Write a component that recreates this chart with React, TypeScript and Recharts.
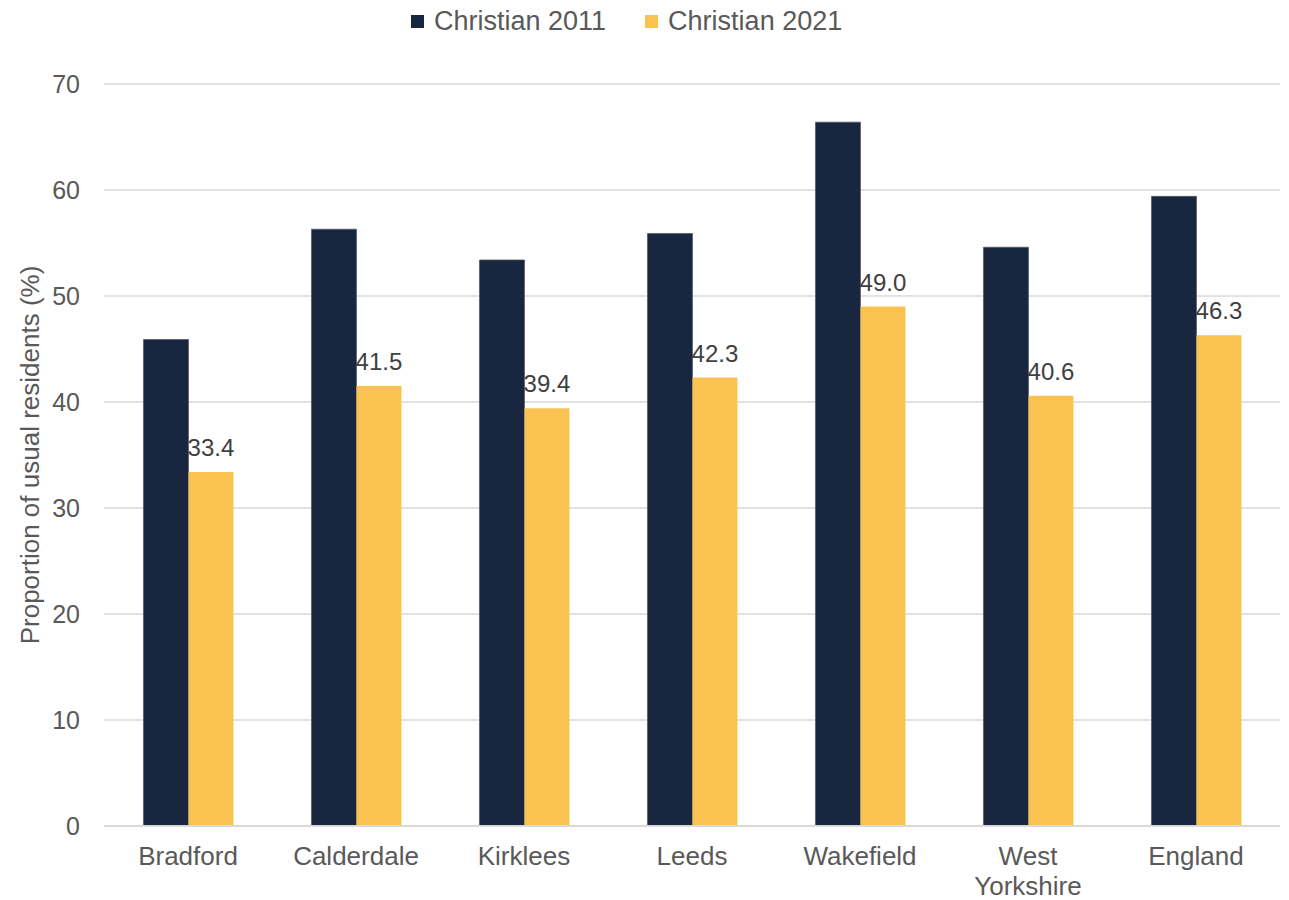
import React from "react";
import {
  BarChart,
  Bar,
  XAxis,
  YAxis,
  CartesianGrid,
  Legend,
  LabelList,
} from "recharts";

// areas on the x axis
const areas = [
  "Bradford",
  "Calderdale",
  "Kirklees",
  "Leeds",
  "Wakefield",
  "West Yorkshire",
  "England",
];

// share of usual residents who are Christian (%)
const christian2011 = [45.9, 56.3, 53.4, 55.9, 66.4, 54.6, 59.4];
const christian2021 = [33.4, 41.5, 39.4, 42.3, 49.0, 40.6, 46.3];

const yTicks = [0, 10, 20, 30, 40, 50, 60, 70];

const seriesNames = ["Christian 2011", "Christian 2021"];
const colors = ["#19263f", "#fac250"];

const FONT = '"Liberation Sans", Arial, sans-serif';

const data = areas.map((name, i) => ({
  name: name,
  c2011: christian2011[i],
  c2021: christian2021[i],
}));

function AreaTick(props: any) {
  const { x, y, payload } = props;
  const value: string = payload.value;
  const lines = value.length > 11 ? value.split(" ") : [value];
  return (
    <text
      x={x}
      y={y}
      textAnchor="middle"
      fill="#595959"
      fontSize={26}
      fontFamily={FONT}
    >
      {lines.map((line, i) => (
        <tspan key={i} x={x} dy={i == 0 ? "0.71em" : 30}>
          {line}
        </tspan>
      ))}
    </text>
  );
}

function TopLegend() {
  return (
    <div
      style={{
        display: "flex",
        alignItems: "center",
        fontFamily: FONT,
        fontSize: 27,
        color: "#595959",
        whiteSpace: "nowrap",
      }}
    >
      {seriesNames.map((name, i) => (
        <div
          key={name}
          style={{
            display: "flex",
            alignItems: "center",
            marginRight: i == 0 ? 39 : 0,
          }}
        >
          <span
            style={{
              display: "inline-block",
              width: 13,
              height: 13,
              background: colors[i],
              marginRight: 10,
            }}
          />
          <span>{name}</span>
        </div>
      ))}
    </div>
  );
}

function YTitle(props: any) {
  const vb = props.viewBox;
  const cy = vb.y + vb.height / 2;
  return (
    <text
      x={30}
      y={cy}
      transform={`rotate(-90, 30, ${cy})`}
      textAnchor="middle"
      dominantBaseline="central"
      fill="#595959"
      fontSize={26}
      fontFamily={FONT}
    >
      Proportion of usual residents (%)
    </text>
  );
}

export default function App() {
  return (
    <div style={{ position: "absolute", left: 0, top: 0, background: "#fff" }}>
      <BarChart
        width={1289}
        height={900}
        data={data}
        margin={{ top: 84, right: 9, bottom: 0, left: 0 }}
        barCategoryGap="23.5%"
        barGap={0}
      >
        <CartesianGrid vertical={false} stroke="#d9d9d9" strokeWidth={1.5} />
        <XAxis
          dataKey="name"
          height={74}
          axisLine={{ stroke: "#d9d9d9", strokeWidth: 2 }}
          tickLine={false}
          tickSize={0}
          tickMargin={21}
          interval={0}
          tick={<AreaTick />}
        />
        <YAxis
          width={104}
          domain={[0, 70]}
          ticks={yTicks}
          axisLine={false}
          tickLine={false}
          tickSize={0}
          tickMargin={24}
          tick={{ fill: "#595959", fontSize: 25, fontFamily: FONT }}
          label={<YTitle />}
        />
        <Legend
          verticalAlign="middle"
          layout="horizontal"
          wrapperStyle={{ top: 6, left: 411, width: "auto" }}
          content={<TopLegend />}
        />
        <Bar
          dataKey="c2011"
          name={seriesNames[0]}
          fill={colors[0]}
          stroke="#4e586c"
          strokeWidth={0.75}
          isAnimationActive={false}
        />
        <Bar
          dataKey="c2021"
          name={seriesNames[1]}
          fill={colors[1]}
          isAnimationActive={false}
        >
          <LabelList
            dataKey="c2021"
            position="top"
            offset={16}
            fill="#404040"
            fontSize={24}
            fontFamily={FONT}
            formatter={(v: any) => Number(v).toFixed(1)}
          />
        </Bar>
      </BarChart>
    </div>
  );
}
